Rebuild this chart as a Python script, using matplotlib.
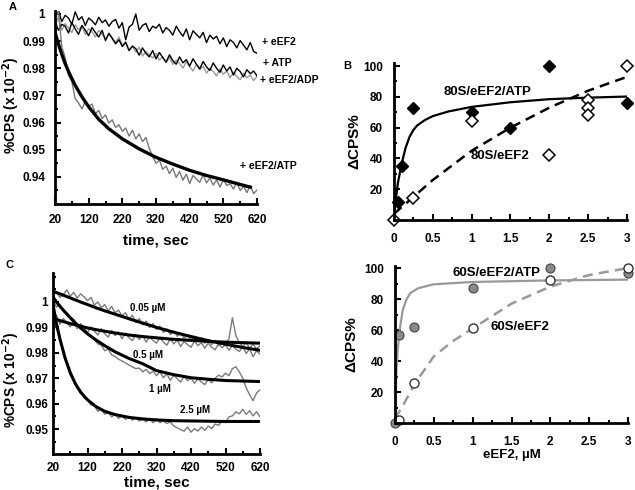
import matplotlib

matplotlib.use("Agg")
import matplotlib.pyplot as plt
from matplotlib.ticker import MultipleLocator, FormatStrFormatter

plt.rcParams["font.family"] = ["Liberation Sans", "DejaVu Sans"]
plt.rcParams["font.weight"] = "bold"
plt.rcParams["axes.labelweight"] = "bold"
plt.rcParams["mathtext.default"] = "bf"

# ---- panel A: time courses (sampled every 10 s) ----
TIME = list(range(20, 621, 10))

A_EEF2 = [
    0.9990, 1.0015, 0.9972, 0.9995, 0.9985, 0.9962, 1.0008, 0.9978, 0.9990, 0.9958,
    0.9985, 0.9975, 0.9960, 0.9988, 0.9968, 0.9978, 0.9955, 0.9972, 0.9980, 0.9948,
    0.9968, 0.9905, 0.9952, 0.9962, 1.0000, 0.9940, 0.9958, 0.9965, 0.9935, 0.9955,
    0.9948, 0.9962, 0.9930, 0.9950, 0.9940, 0.9922, 0.9955, 0.9935, 0.9918, 0.9945,
    0.9905, 0.9938, 0.9925, 0.9912, 0.9932, 0.9895, 0.9922, 0.9908, 0.9918, 0.9890,
    0.9912, 0.9880, 0.9905, 0.9895, 0.9875, 0.9902, 0.9885, 0.9868, 0.9895, 0.9862,
    0.9855,
]
A_ATP = [
    0.9975, 0.9940, 0.9962, 0.9955, 0.9930, 0.9968, 0.9945, 0.9925, 0.9958, 0.9940,
    0.9920, 0.9950, 0.9932, 0.9915, 0.9940, 0.9902, 0.9928, 0.9910, 0.9890, 0.9905,
    0.9880, 0.9895, 0.9865, 0.9882, 0.9872, 0.9848, 0.9875, 0.9855, 0.9842, 0.9865,
    0.9835, 0.9858, 0.9840, 0.9822, 0.9850, 0.9828, 0.9815, 0.9842, 0.9820, 0.9832,
    0.9808, 0.9835, 0.9815, 0.9798, 0.9825, 0.9805, 0.9792, 0.9820, 0.9800, 0.9785,
    0.9812, 0.9790, 0.9805, 0.9775, 0.9800, 0.9788, 0.9768, 0.9795, 0.9780, 0.9790,
    0.9772,
]
A_ADP = [
    0.9955, 0.9990, 0.9940, 0.9965, 0.9948, 0.9932, 0.9960, 0.9942, 0.9955, 0.9925,
    0.9945, 0.9935, 0.9915, 0.9940, 0.9925, 0.9908, 0.9930, 0.9912, 0.9895, 0.9915,
    0.9885, 0.9898, 0.9868, 0.9880, 0.9860, 0.9878, 0.9845, 0.9862, 0.9850, 0.9838,
    0.9855, 0.9830, 0.9842, 0.9822, 0.9840, 0.9815, 0.9830, 0.9818, 0.9800, 0.9825,
    0.9805, 0.9790, 0.9815, 0.9795, 0.9808, 0.9782, 0.9800, 0.9788, 0.9772, 0.9798,
    0.9778, 0.9790, 0.9765, 0.9785, 0.9770, 0.9758, 0.9782, 0.9765, 0.9775, 0.9755,
    0.9770,
]
A_EEF2_ATP = [
    0.9985, 1.0012, 0.9880, 0.9840, 0.9775, 0.9752, 0.9688, 0.9672, 0.9650, 0.9678,
    0.9660, 0.9668, 0.9632, 0.9645, 0.9615, 0.9628, 0.9598, 0.9610, 0.9582, 0.9592,
    0.9568, 0.9580, 0.9550, 0.9572, 0.9540, 0.9558, 0.9530, 0.9545, 0.9505, 0.9475,
    0.9450, 0.9462, 0.9428, 0.9440, 0.9412, 0.9432, 0.9398, 0.9420, 0.9388, 0.9410,
    0.9375, 0.9405, 0.9392, 0.9380, 0.9408, 0.9378, 0.9395, 0.9370, 0.9388, 0.9362,
    0.9390, 0.9368, 0.9375, 0.9355, 0.9380, 0.9350, 0.9365, 0.9342, 0.9368, 0.9338,
    0.9352,
]
A_FIT_T = [20, 30, 40, 50, 60, 80, 100, 120, 150, 180, 220, 270, 320, 370, 420, 470, 520, 570, 600]
A_FIT = [0.9933, 0.9890, 0.9852, 0.9818, 0.9788, 0.9737, 0.9695, 0.9658, 0.9612, 0.9577,
         0.9540, 0.9503, 0.9472, 0.9447, 0.9424, 0.9405, 0.9389, 0.9372, 0.9362]
A_YTICKS = [0.94, 0.95, 0.96, 0.97, 0.98, 0.99, 1.0]

# ---- panel C: eEF2 concentration series ----
C_005 = [
    1.0025, 1.0040, 1.0018, 1.0030, 1.0048, 1.0022, 1.0038, 1.0015, 1.0032, 1.0020,
    1.0005, 1.0018, 0.9988, 1.0000, 0.9978, 0.9990, 0.9965, 0.9982, 0.9958, 0.9968,
    0.9945, 0.9958, 0.9932, 0.9948, 0.9920, 0.9935, 0.9910, 0.9925, 0.9900, 0.9915,
    0.9892, 0.9905, 0.9880, 0.9895, 0.9872, 0.9885, 0.9865, 0.9878, 0.9858, 0.9870,
    0.9850, 0.9865, 0.9845, 0.9858, 0.9838, 0.9852, 0.9832, 0.9848, 0.9828, 0.9842,
    0.9835, 0.9855, 0.9938, 0.9868, 0.9840, 0.9825, 0.9840, 0.9818, 0.9835, 0.9815,
    0.9828,
]
C_05 = [
    0.9930, 0.9948, 0.9912, 0.9935, 0.9918, 0.9902, 0.9925, 0.9895, 0.9915, 0.9900,
    0.9880, 0.9902, 0.9885, 0.9870, 0.9895, 0.9875, 0.9862, 0.9888, 0.9868, 0.9882,
    0.9855, 0.9878, 0.9860, 0.9848, 0.9872, 0.9852, 0.9868, 0.9842, 0.9862, 0.9848,
    0.9838, 0.9860, 0.9842, 0.9830, 0.9855, 0.9835, 0.9850, 0.9825, 0.9845, 0.9832,
    0.9822, 0.9846, 0.9828, 0.9840, 0.9818, 0.9838, 0.9822, 0.9812, 0.9836, 0.9820,
    0.9832, 0.9810, 0.9828, 0.9815, 0.9805, 0.9825, 0.9798, 0.9815, 0.9785, 0.9808,
    0.9795,
]
C_1 = [
    1.0005, 0.9980, 0.9992, 0.9962, 0.9958, 0.9940, 0.9932, 0.9910, 0.9902, 0.9885,
    0.9875, 0.9860, 0.9852, 0.9835, 0.9830, 0.9808, 0.9815, 0.9792, 0.9785, 0.9775,
    0.9768, 0.9760, 0.9752, 0.9745, 0.9738, 0.9740, 0.9725, 0.9735, 0.9718, 0.9728,
    0.9710, 0.9725, 0.9702, 0.9718, 0.9692, 0.9712, 0.9698, 0.9685, 0.9708, 0.9690,
    0.9700, 0.9680, 0.9698, 0.9685, 0.9675, 0.9695, 0.9682, 0.9700, 0.9712, 0.9705,
    0.9720, 0.9710, 0.9738, 0.9745, 0.9725, 0.9700, 0.9662, 0.9635, 0.9612, 0.9642,
    0.9655,
]
C_25 = [
    0.9975, 0.9895, 0.9858, 0.9795, 0.9758, 0.9712, 0.9695, 0.9660, 0.9655, 0.9622,
    0.9620, 0.9595, 0.9592, 0.9570, 0.9578, 0.9558, 0.9565, 0.9548, 0.9558, 0.9542,
    0.9552, 0.9538, 0.9550, 0.9535, 0.9545, 0.9532, 0.9540, 0.9528, 0.9542, 0.9525,
    0.9540, 0.9525, 0.9532, 0.9522, 0.9528, 0.9512, 0.9505, 0.9498, 0.9492, 0.9508,
    0.9488, 0.9502, 0.9492, 0.9508, 0.9495, 0.9512, 0.9502, 0.9520, 0.9515, 0.9532,
    0.9525, 0.9548, 0.9552, 0.9568, 0.9560, 0.9578, 0.9558, 0.9572, 0.9552, 0.9568,
    0.9548,
]
C_FIT_T = [20, 30, 40, 55, 70, 85, 100, 120, 145, 170, 200, 240, 280, 320, 370, 420, 470, 520, 570, 620]
C_FIT_005 = [1.0042, 1.0037, 1.0032, 1.0024, 1.0016, 1.0008, 1.0000, 0.9990, 0.9977, 0.9965,
             0.9952, 0.9934, 0.9917, 0.9900, 0.9881, 0.9864, 0.9848, 0.9834, 0.9821, 0.9810]
C_FIT_05 = [0.9935, 0.9931, 0.9927, 0.9921, 0.9915, 0.9910, 0.9905, 0.9898, 0.9891, 0.9885,
            0.9878, 0.9870, 0.9864, 0.9859, 0.9853, 0.9849, 0.9845, 0.9842, 0.9840, 0.9838]
C_FIT_1 = [1.0020, 1.0000, 0.9983, 0.9960, 0.9938, 0.9917, 0.9898, 0.9875, 0.9850, 0.9828,
           0.9804, 0.9778, 0.9757, 0.9730, 0.9714, 0.9702, 0.9696, 0.9691, 0.9689, 0.9687]
C_FIT_25 = [0.9990, 0.9915, 0.9855, 0.9780, 0.9722, 0.9678, 0.9645, 0.9615, 0.9588, 0.9570,
            0.9557, 0.9546, 0.9540, 0.9536, 0.9533, 0.9532, 0.9531, 0.9530, 0.9530, 0.9530]
C_YTICKS = [0.95, 0.96, 0.97, 0.98, 0.99, 1.0]
C_LABELS = ["0.05 µM", "0.5 µM", "1 µM", "2.5 µM"]

# ---- panel B: 80S titration ----
B_ATP_X = [0.05, 0.1, 0.25, 1, 1.5, 2, 3]
B_ATP_Y = [12, 35, 73, 70, 60, 100, 76]
B_NOATP_X = [0, 0.25, 1, 2, 2.5, 2.5, 2.5, 3]
B_NOATP_Y = [0, 14, 64, 42, 78, 73, 68, 100]
B_FIT_X = [0, 0.02, 0.05, 0.1, 0.15, 0.2, 0.25, 0.3, 0.4, 0.5, 0.7, 1.0, 1.5, 2.0, 2.5, 3.0]
B_FIT_ATP = [0, 12, 24, 37, 47, 54, 58.5, 61.5, 65, 67.5, 70.5, 73.5, 76.5, 78.5, 79.5, 80.2]
B_FIT2_X = [0, 0.25, 0.5, 1.0, 1.5, 2.0, 2.5, 3.0]
B_FIT_NOATP = [4, 15, 26, 45, 60, 73, 84, 93]

# ---- panel D: 60S titration ----
D_ATP_X = [0, 0.05, 0.25, 1, 2, 3]
D_ATP_Y = [0, 57, 62, 87, 100, 97]
D_NOATP_X = [0.05, 0.25, 1, 2, 3]
D_NOATP_Y = [2, 26, 61, 92, 100]
D_FIT_X = [0, 0.01, 0.02, 0.04, 0.06, 0.1, 0.15, 0.2, 0.3, 0.5, 1.0, 2.0, 3.0]
D_FIT_ATP = [0, 20, 35, 50, 60, 73, 80, 84, 87, 89.5, 91, 92, 92.5]
D_FIT2_X = [0, 0.1, 0.25, 0.5, 0.75, 1.0, 1.5, 2.0, 2.5, 3.0]
D_FIT_NOATP = [3, 11, 25, 43, 53, 61, 77, 88, 95.5, 100]
PCT_TICKS = [20, 40, 60, 80, 100]

W, H = 635, 490


def frac(left, top, right, bottom):
    return [left / W, 1 - bottom / H, (right - left) / W, (bottom - top) / H]


def style(ax, xmaj, xmin, xoff, ymin, yticks, xpad, ypad):
    for side in ("top", "right"):
        ax.spines[side].set_visible(False)
    for side in ("left", "bottom"):
        ax.spines[side].set_linewidth(2.0)
    ax.xaxis.set_major_locator(MultipleLocator(xmaj, offset=xoff))
    ax.xaxis.set_minor_locator(MultipleLocator(xmin, offset=xoff))
    ax.set_yticks(yticks)
    ax.yaxis.set_minor_locator(MultipleLocator(ymin))
    ax.xaxis.set_major_formatter(FormatStrFormatter("%g"))
    ax.yaxis.set_major_formatter(FormatStrFormatter("%g"))
    ax.tick_params(which="both", direction="in", width=1.5, labelsize=8.5)
    ax.tick_params(which="major", length=4.5)
    ax.tick_params(which="minor", length=2.5)
    ax.tick_params(axis="x", pad=xpad)
    ax.tick_params(axis="y", pad=ypad)


fig = plt.figure(figsize=(6.35, 4.9), dpi=100)

# Panel A
ax_a = fig.add_axes(frac(55, 11, 257, 204))
ax_a.plot(TIME, A_ADP, color="#9a9a9a", lw=1.0)
ax_a.plot(TIME, A_ATP, color="black", lw=1.0)
ax_a.plot(TIME, A_EEF2, color="black", lw=1.0)
ax_a.plot(TIME, A_EEF2_ATP, color="#777777", lw=1.0)
ax_a.plot(A_FIT_T, A_FIT, color="black", lw=2.4)
ax_a.set_xlim(20, 620)
ax_a.set_ylim(0.930, 1.0011)
style(ax_a, 100, 50, 20, 0.005, A_YTICKS, 7, 7)
ax_a.set_xlabel("time, sec", fontsize=11)
ax_a.set_ylabel("%CPS (x 10$^{-2}$)", fontsize=10)
ax_a.yaxis.set_label_coords(-0.165, 0.51)
ax_a.xaxis.set_label_coords(0.5, -0.155)
for txt, x, y in [("+ eEF2", 635, 0.9896), ("+ ATP", 638, 0.9818),
                  ("+ eEF2/ADP", 629, 0.9755), ("+ eEF2/ATP", 570, 0.944)]:
    ax_a.text(x, y, txt, fontsize=7.5, fontweight="bold", va="center", clip_on=False)
fig.text(13 / W, 1 - 7 / H, "A", fontsize=8, fontweight="bold", va="center", ha="center")

# Panel C
ax_c = fig.add_axes(frac(53, 273, 260, 454))
for trace in (C_005, C_05, C_1, C_25):
    ax_c.plot(TIME, trace, color="#7a7a7a", lw=1.0)
for fit in (C_FIT_005, C_FIT_05, C_FIT_1, C_FIT_25):
    ax_c.plot(C_FIT_T, fit, color="black", lw=2.2)
ax_c.set_xlim(20, 620)
ax_c.set_ylim(0.9402, 1.0114)
style(ax_c, 100, 50, 20, 0.005, C_YTICKS, 6, 3.5)
ax_c.set_xlabel("time, sec", fontsize=11, labelpad=1)
ax_c.set_ylabel("%CPS (x 10$^{-2}$)", fontsize=9.8)
ax_c.yaxis.set_label_coords(-0.15, 0.41)
for txt, x, y in zip(C_LABELS, [295, 295, 330, 432], [0.9977, 0.9792, 0.9658, 0.9577]):
    ax_c.text(x, y, txt, fontsize=7, fontweight="bold", ha="center", va="center")
fig.text(10 / W, 1 - 265 / H, "C", fontsize=8, fontweight="bold", va="center", ha="center")

# Panel B
ax_b = fig.add_axes(frac(394, 63, 627, 220))
ax_b.plot(B_FIT_X, B_FIT_ATP, color="black", lw=1.6)
ax_b.plot(B_FIT2_X, B_FIT_NOATP, color="black", lw=1.8, ls=(0, (4, 2.5)))
ax_b.plot(B_ATP_X, B_ATP_Y, ls="none", marker="D", ms=6.5, mfc="black", mec="black", clip_on=False)
ax_b.plot(B_NOATP_X, B_NOATP_Y, ls="none", marker="D", ms=6.5, mfc="white", mec="black",
          mew=1.1, clip_on=False)
ax_b.set_xlim(0, 3)
ax_b.set_ylim(0, 102)
style(ax_b, 0.5, 0.25, 0, 10, PCT_TICKS, 9, 8)
ax_b.set_ylabel("ΔCPS%", fontsize=11)
ax_b.yaxis.set_label_coords(-0.142, 0.5)
ax_b.text(1.2, 83, "80S/eEF2/ATP", fontsize=9.5, fontweight="bold", ha="center", va="center")
ax_b.text(1.365, 41.3, "80S/eEF2", fontsize=9.5, fontweight="bold", ha="center", va="center")
fig.text(347 / W, 1 - 66 / H, "B", fontsize=8, fontweight="bold", va="center", ha="center")

# Panel D
ax_d = fig.add_axes(frac(395, 266, 628, 423))
ax_d.plot(D_FIT_X, D_FIT_ATP, color="#999999", lw=1.6)
ax_d.plot(D_FIT2_X, D_FIT_NOATP, color="#999999", lw=1.8, ls=(0, (4, 2.5)))
ax_d.plot(D_ATP_X, D_ATP_Y, ls="none", marker="o", ms=6.5, mfc="#8a8a8a", mec="#444444",
          mew=0.8, clip_on=False)
ax_d.plot(D_NOATP_X, D_NOATP_Y, ls="none", marker="o", ms=6.5, mfc="white", mec="#333333",
          mew=1.0, clip_on=False)
ax_d.set_xlim(0, 3)
ax_d.set_ylim(0, 101.3)
style(ax_d, 0.5, 0.25, 0, 10, PCT_TICKS, 9, 8)
ax_d.set_ylabel("ΔCPS%", fontsize=11)
ax_d.yaxis.set_label_coords(-0.159, 0.5)
ax_d.set_xlabel("eEF2, µM", fontsize=9.5, labelpad=1)
ax_d.text(1.31, 96.8, "60S/eEF2/ATP", fontsize=9.5, fontweight="bold", ha="center", va="center")
ax_d.text(1.61, 62, "60S/eEF2", fontsize=9.5, fontweight="bold", ha="center", va="center")

fig.savefig("out.png", dpi=100)
